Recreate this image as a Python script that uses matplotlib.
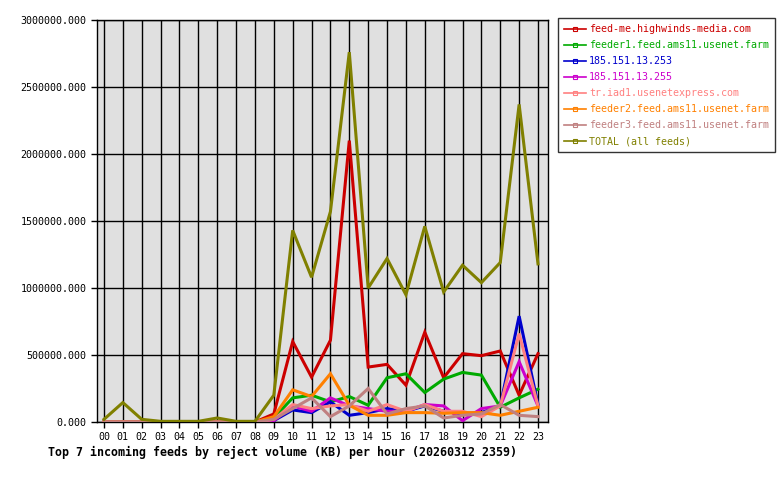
import matplotlib
matplotlib.use('Agg')
import matplotlib.pyplot as plt
from matplotlib.lines import Line2D
from matplotlib.ticker import FuncFormatter, MultipleLocator

hours = ['%02d' % h for h in range(24)]

feed_me = [0, 0, 0, 0, 0, 0, 0, 0, 0, 60000, 600000, 335000, 610000, 2100000, 410000,
           430000, 275000, 670000, 330000, 510000, 495000, 530000, 200000, 510000]
feeder1 = [0, 0, 0, 0, 0, 0, 0, 0, 0, 30000, 180000, 200000, 150000, 190000, 125000,
           330000, 360000, 220000, 320000, 370000, 350000, 110000, 180000, 245000]
ip_253 = [0, 0, 0, 0, 0, 0, 0, 0, 0, 10000, 90000, 70000, 150000, 50000, 70000,
          100000, 80000, 120000, 80000, 60000, 70000, 120000, 790000, 130000]
ip_255 = [0, 0, 0, 0, 0, 0, 0, 0, 0, 10000, 120000, 80000, 180000, 120000, 100000,
          80000, 80000, 130000, 120000, 10000, 100000, 120000, 450000, 120000]
tr_iad1 = [0, 0, 0, 0, 0, 0, 0, 0, 0, 20000, 130000, 100000, 120000, 130000, 80000,
           130000, 80000, 130000, 80000, 80000, 40000, 120000, 660000, 120000]
feeder2 = [0, 0, 0, 0, 0, 0, 0, 0, 0, 40000, 240000, 190000, 360000, 125000, 50000,
           50000, 70000, 70000, 65000, 70000, 70000, 50000, 80000, 110000]
feeder3 = [0, 0, 0, 0, 0, 0, 0, 0, 0, 20000, 100000, 180000, 40000, 120000, 250000,
           60000, 100000, 120000, 30000, 50000, 60000, 130000, 50000, 40000]
total = [20000, 145000, 20000, 5000, 5000, 5000, 30000, 5000, 5000, 200000, 1430000,
         1080000, 1570000, 2760000, 1000000, 1220000, 950000, 1460000, 970000, 1170000,
         1040000, 1190000, 2370000, 1180000]

names = ['feed-me.highwinds-media.com', 'feeder1.feed.ams11.usenet.farm',
         '185.151.13.253', '185.151.13.255', 'tr.iad1.usenetexpress.com',
         'feeder2.feed.ams11.usenet.farm', 'feeder3.feed.ams11.usenet.farm',
         'TOTAL (all feeds)']
series = [feed_me, feeder1, ip_253, ip_255, tr_iad1, feeder2, feeder3, total]
colors = ['#cc0000', '#00aa00', '#0000cc', '#cc00cc', '#ff8080', '#ff8000',
          '#c08080', '#808000']

plt.rcParams['font.family'] = ['DejaVu Sans Mono']

fig = plt.figure(figsize=(7.8, 4.8), dpi=100)
ax = fig.add_axes([97 / 780, 1 - 422 / 480, 451 / 780, 402 / 480])
ax.set_facecolor('#e0e0e0')

x = list(range(24))
for vals, col in zip(series, colors):
    ax.plot(x, vals, color=col, lw=2.2, solid_joinstyle='miter', zorder=3)

ax.set_xlim(-0.37, 23.53)
ax.set_ylim(0, 3000000)
ax.set_xticks(x)
ax.set_xticklabels(hours)
ax.yaxis.set_major_locator(MultipleLocator(500000))
ax.yaxis.set_major_formatter(FuncFormatter(lambda v, p: '%.3f' % v))
ax.grid(True, color='black', lw=1.0, zorder=1)
ax.set_axisbelow(True)
for s in ax.spines.values():
    s.set_color('black')
    s.set_linewidth(1.0)
ax.tick_params(axis='both', labelsize=7.2, length=4, width=1, colors='black')

fig.text(48 / 780, 1 - 452 / 480,
         'Top 7 incoming feeds by reject volume (KB) per hour (20260312 2359)',
         fontsize=8.4, fontweight='bold', va='center', ha='left')

handles = [Line2D([0], [0], color=c, lw=1.2, marker='s', markersize=3,
                  markerfacecolor='none', markeredgecolor=c, markeredgewidth=0.8)
           for c in colors]
leg = fig.legend(handles, names, loc='upper left',
                 bbox_to_anchor=(558 / 780, 1 - 18 / 480), fontsize=7.2,
                 frameon=True, fancybox=False, handlelength=2.2, handletextpad=0.3,
                 labelspacing=0.6, borderpad=0.6, borderaxespad=0)
leg.get_frame().set_edgecolor('black')
leg.get_frame().set_linewidth(1.0)
for t, c in zip(leg.get_texts(), colors):
    t.set_color(c)

fig.savefig('out.png', dpi=100, facecolor='white')
